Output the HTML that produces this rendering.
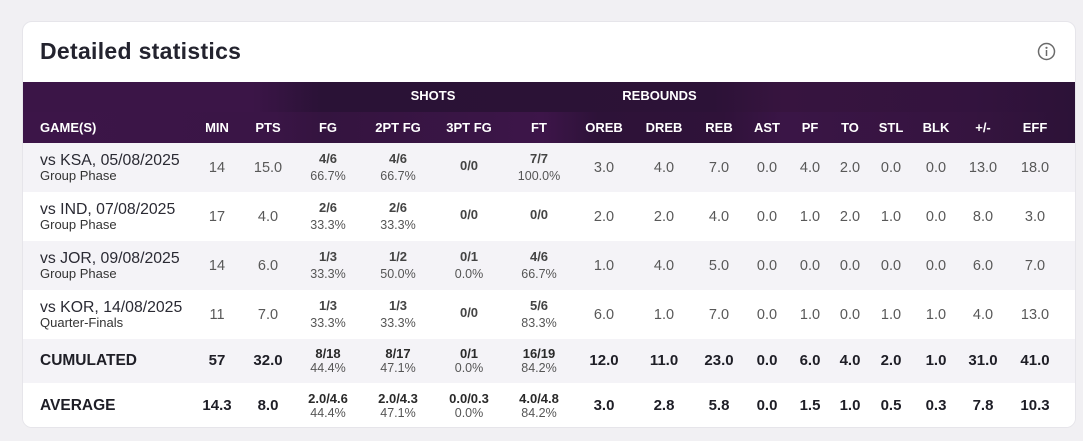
<!DOCTYPE html>
<html><head><meta charset="utf-8">
<style>
*{box-sizing:border-box;margin:0;padding:0}
html,body{width:1083px;height:441px;overflow:hidden;background:#f1f0f3;font-family:"Liberation Sans",Arial,sans-serif}
.card{position:absolute;left:22px;top:21px;width:1054px;height:407px;background:#fff;border:1px solid #e6e5ea;border-radius:10px;overflow:hidden}
.title{position:absolute;left:17px;top:14px;line-height:30px;font-size:23px;font-weight:bold;color:#23232e;letter-spacing:0.3px;white-space:nowrap}
.info{position:absolute;left:1014px;top:20px}
.hdr{position:absolute;left:0;top:60px;width:1052px;height:61px}
.ht{position:absolute;left:0;top:0;width:1052px;height:30px;background:linear-gradient(90deg,#3b1547 0px,#3b1547 230px,#2a1236 300px,#2b1236 520px,#2c1237 690px,#37143f 760px,#33133e 950px,#2c1237 1052px)}
.hb{position:absolute;left:0;top:30px;width:1052px;height:31px;background:linear-gradient(90deg,#3c1548 0px,#3a1546 250px,#34143f 300px,#3a1546 460px,#3d1549 520px,#2d1238 575px,#2f1239 700px,#3a1546 760px,#35143f 950px,#2c1237 1052px)}
.h{position:absolute;color:#fff;font-weight:bold;font-size:13px;line-height:16px;transform:translateX(-50%);white-space:nowrap}
.row{position:absolute;left:0;width:1052px}
.g{background:#f4f3f7}
.w{background:#fff}
.c{position:absolute;transform:translateX(-50%);white-space:nowrap;text-align:center}
.nm{position:absolute;left:17px;white-space:nowrap;color:#2a2a33}
.n1{font-size:15.8px;line-height:18px;top:9px}
.n2{font-size:13px;line-height:14px;top:25.7px;color:#333}
.num{font-size:14.5px;line-height:18px;top:16px;color:#585858}
.st{font-size:13px;font-weight:bold;line-height:16px;top:8px;color:#444}
.sb{font-size:12.5px;line-height:14px;top:25.5px;color:#555}
.sg{font-size:13px;font-weight:bold;line-height:16px;top:15px;color:#444}
.tl{position:absolute;left:17px;font-size:15.5px;font-weight:bold;line-height:18px;color:#1e1e26;white-space:nowrap}
.tn{font-size:15px;font-weight:bold;line-height:18px;color:#1e1e26}
.tst{font-size:13px;font-weight:bold;line-height:16px;color:#2a2a2a}
.tsb{font-size:12.5px;line-height:14px;color:#555}
</style></head><body>
<div class="card">
  <div class="title">Detailed statistics</div>
  <svg class="info" width="19" height="19" viewBox="0 0 19 19"><circle cx="9.5" cy="9.5" r="8" fill="none" stroke="#6a6a6a" stroke-width="1.5"/><circle cx="9.5" cy="5.8" r="1.1" fill="#6a6a6a"/><rect x="8.75" y="8" width="1.5" height="6" fill="#6a6a6a"/></svg>

  <div class="hdr">
    <div class="ht"></div><div class="hb"></div>
    <div class="h" style="left:410px;top:6px">SHOTS</div>
    <div class="h" style="left:636.5px;top:6px">REBOUNDS</div>
    <div class="h" style="left:17px;top:37.5px;transform:none">GAME(S)</div>
    <div class="h" style="left:194px;top:37.5px">MIN</div>
    <div class="h" style="left:245px;top:37.5px">PTS</div>
    <div class="h" style="left:305px;top:37.5px">FG</div>
    <div class="h" style="left:375px;top:37.5px">2PT FG</div>
    <div class="h" style="left:446px;top:37.5px">3PT FG</div>
    <div class="h" style="left:516px;top:37.5px">FT</div>
    <div class="h" style="left:581px;top:37.5px">OREB</div>
    <div class="h" style="left:641px;top:37.5px">DREB</div>
    <div class="h" style="left:696px;top:37.5px">REB</div>
    <div class="h" style="left:744px;top:37.5px">AST</div>
    <div class="h" style="left:787px;top:37.5px">PF</div>
    <div class="h" style="left:827px;top:37.5px">TO</div>
    <div class="h" style="left:868px;top:37.5px">STL</div>
    <div class="h" style="left:913px;top:37.5px">BLK</div>
    <div class="h" style="left:960px;top:37.5px">+/-</div>
    <div class="h" style="left:1012px;top:37.5px">EFF</div>
  </div>

  <!-- Row 1 -->
  <div class="row g" style="top:121px;height:49px">
    <div class="nm n1">vs KSA, 05/08/2025</div>
    <div class="nm n2">Group Phase</div>
    <div class="c num" style="left:194px">14</div>
    <div class="c num" style="left:245px">15.0</div>
    <div class="c st" style="left:305px">4/6</div><div class="c sb" style="left:305px">66.7%</div>
    <div class="c st" style="left:375px">4/6</div><div class="c sb" style="left:375px">66.7%</div>
    <div class="c sg" style="left:446px">0/0</div>
    <div class="c st" style="left:516px">7/7</div><div class="c sb" style="left:516px">100.0%</div>
    <div class="c num" style="left:581px">3.0</div>
    <div class="c num" style="left:641px">4.0</div>
    <div class="c num" style="left:696px">7.0</div>
    <div class="c num" style="left:744px">0.0</div>
    <div class="c num" style="left:787px">4.0</div>
    <div class="c num" style="left:827px">2.0</div>
    <div class="c num" style="left:868px">0.0</div>
    <div class="c num" style="left:913px">0.0</div>
    <div class="c num" style="left:960px">13.0</div>
    <div class="c num" style="left:1012px">18.0</div>
  </div>

  <!-- Row 2 -->
  <div class="row w" style="top:170px;height:49px">
    <div class="nm n1">vs IND, 07/08/2025</div>
    <div class="nm n2">Group Phase</div>
    <div class="c num" style="left:194px">17</div>
    <div class="c num" style="left:245px">4.0</div>
    <div class="c st" style="left:305px">2/6</div><div class="c sb" style="left:305px">33.3%</div>
    <div class="c st" style="left:375px">2/6</div><div class="c sb" style="left:375px">33.3%</div>
    <div class="c sg" style="left:446px">0/0</div>
    <div class="c sg" style="left:516px">0/0</div>
    <div class="c num" style="left:581px">2.0</div>
    <div class="c num" style="left:641px">2.0</div>
    <div class="c num" style="left:696px">4.0</div>
    <div class="c num" style="left:744px">0.0</div>
    <div class="c num" style="left:787px">1.0</div>
    <div class="c num" style="left:827px">2.0</div>
    <div class="c num" style="left:868px">1.0</div>
    <div class="c num" style="left:913px">0.0</div>
    <div class="c num" style="left:960px">8.0</div>
    <div class="c num" style="left:1012px">3.0</div>
  </div>

  <!-- Row 3 -->
  <div class="row g" style="top:219px;height:49px">
    <div class="nm n1">vs JOR, 09/08/2025</div>
    <div class="nm n2">Group Phase</div>
    <div class="c num" style="left:194px">14</div>
    <div class="c num" style="left:245px">6.0</div>
    <div class="c st" style="left:305px">1/3</div><div class="c sb" style="left:305px">33.3%</div>
    <div class="c st" style="left:375px">1/2</div><div class="c sb" style="left:375px">50.0%</div>
    <div class="c st" style="left:446px">0/1</div><div class="c sb" style="left:446px">0.0%</div>
    <div class="c st" style="left:516px">4/6</div><div class="c sb" style="left:516px">66.7%</div>
    <div class="c num" style="left:581px">1.0</div>
    <div class="c num" style="left:641px">4.0</div>
    <div class="c num" style="left:696px">5.0</div>
    <div class="c num" style="left:744px">0.0</div>
    <div class="c num" style="left:787px">0.0</div>
    <div class="c num" style="left:827px">0.0</div>
    <div class="c num" style="left:868px">0.0</div>
    <div class="c num" style="left:913px">0.0</div>
    <div class="c num" style="left:960px">6.0</div>
    <div class="c num" style="left:1012px">7.0</div>
  </div>

  <!-- Row 4 -->
  <div class="row w" style="top:268px;height:49px">
    <div class="nm n1">vs KOR, 14/08/2025</div>
    <div class="nm n2">Quarter-Finals</div>
    <div class="c num" style="left:194px">11</div>
    <div class="c num" style="left:245px">7.0</div>
    <div class="c st" style="left:305px">1/3</div><div class="c sb" style="left:305px">33.3%</div>
    <div class="c st" style="left:375px">1/3</div><div class="c sb" style="left:375px">33.3%</div>
    <div class="c sg" style="left:446px">0/0</div>
    <div class="c st" style="left:516px">5/6</div><div class="c sb" style="left:516px">83.3%</div>
    <div class="c num" style="left:581px">6.0</div>
    <div class="c num" style="left:641px">1.0</div>
    <div class="c num" style="left:696px">7.0</div>
    <div class="c num" style="left:744px">0.0</div>
    <div class="c num" style="left:787px">1.0</div>
    <div class="c num" style="left:827px">0.0</div>
    <div class="c num" style="left:868px">1.0</div>
    <div class="c num" style="left:913px">1.0</div>
    <div class="c num" style="left:960px">4.0</div>
    <div class="c num" style="left:1012px">13.0</div>
  </div>

  <!-- Cumulated -->
  <div class="row g" style="top:317px;height:44px">
    <div class="tl" style="top:12.7px">CUMULATED</div>
    <div class="c tn" style="left:194px;top:12.7px">57</div>
    <div class="c tn" style="left:245px;top:12.7px">32.0</div>
    <div class="c tst" style="left:305px;top:6.5px">8/18</div><div class="c tsb" style="left:305px;top:22.3px">44.4%</div>
    <div class="c tst" style="left:375px;top:6.5px">8/17</div><div class="c tsb" style="left:375px;top:22.3px">47.1%</div>
    <div class="c tst" style="left:446px;top:6.5px">0/1</div><div class="c tsb" style="left:446px;top:22.3px">0.0%</div>
    <div class="c tst" style="left:516px;top:6.5px">16/19</div><div class="c tsb" style="left:516px;top:22.3px">84.2%</div>
    <div class="c tn" style="left:581px;top:12.7px">12.0</div>
    <div class="c tn" style="left:641px;top:12.7px">11.0</div>
    <div class="c tn" style="left:696px;top:12.7px">23.0</div>
    <div class="c tn" style="left:744px;top:12.7px">0.0</div>
    <div class="c tn" style="left:787px;top:12.7px">6.0</div>
    <div class="c tn" style="left:827px;top:12.7px">4.0</div>
    <div class="c tn" style="left:868px;top:12.7px">2.0</div>
    <div class="c tn" style="left:913px;top:12.7px">1.0</div>
    <div class="c tn" style="left:960px;top:12.7px">31.0</div>
    <div class="c tn" style="left:1012px;top:12.7px">41.0</div>
  </div>

  <!-- Average -->
  <div class="row w" style="top:361px;height:44px">
    <div class="tl" style="top:13.7px">AVERAGE</div>
    <div class="c tn" style="left:194px;top:13.7px">14.3</div>
    <div class="c tn" style="left:245px;top:13.7px">8.0</div>
    <div class="c tst" style="left:305px;top:7.7px">2.0/4.6</div><div class="c tsb" style="left:305px;top:23px">44.4%</div>
    <div class="c tst" style="left:375px;top:7.7px">2.0/4.3</div><div class="c tsb" style="left:375px;top:23px">47.1%</div>
    <div class="c tst" style="left:446px;top:7.7px">0.0/0.3</div><div class="c tsb" style="left:446px;top:23px">0.0%</div>
    <div class="c tst" style="left:516px;top:7.7px">4.0/4.8</div><div class="c tsb" style="left:516px;top:23px">84.2%</div>
    <div class="c tn" style="left:581px;top:13.7px">3.0</div>
    <div class="c tn" style="left:641px;top:13.7px">2.8</div>
    <div class="c tn" style="left:696px;top:13.7px">5.8</div>
    <div class="c tn" style="left:744px;top:13.7px">0.0</div>
    <div class="c tn" style="left:787px;top:13.7px">1.5</div>
    <div class="c tn" style="left:827px;top:13.7px">1.0</div>
    <div class="c tn" style="left:868px;top:13.7px">0.5</div>
    <div class="c tn" style="left:913px;top:13.7px">0.3</div>
    <div class="c tn" style="left:960px;top:13.7px">7.8</div>
    <div class="c tn" style="left:1012px;top:13.7px">10.3</div>
  </div>
</div>
</body></html>
